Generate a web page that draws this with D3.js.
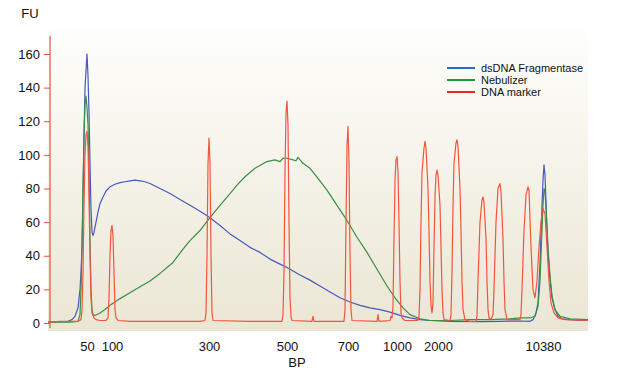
<!DOCTYPE html>
<html>
<head>
<meta charset="utf-8">
<script src="https://cdn.jsdelivr.net/npm/d3@7"></script>
<style>
  html, body { margin: 0; padding: 0; background: #ffffff; }
  svg { display: block; }
  text { font-family: "Liberation Sans", Arial, sans-serif; fill: #111; }
</style>
</head>
<body>
<svg id="chart" width="619" height="385"></svg>
<script>
// ---- Data (migration position, FU) ----
const yTicks = [0, 20, 40, 60, 80, 100, 120, 140, 160];
const ladderPositions = [39, 64, 161, 239, 300, 349, 390, 495];
const ladderLabels = ["50", "100", "300", "500", "700", "1000", "2000", "10380"];

const fragmentase = [
  [0,0.5],[12,0.8],[20,1],[24,2],[27,4],[30,9],[32,20],[33,30],[34,45],[35,75],[36,110],[37,140],[38,150],[39,160],
  [40,147],[41,125],[42,95],[43,68],[44,54],[45,52],[46,54],[48,60],[50,66],[52,71],[55,75],[58,78.5],[62,81],
  [67,82.5],[72,83.5],[77,84],[82,84.5],[87,85],[92,84.5],[97,84],[102,83],[112,80],[122,77],[132,73.5],[142,70],
  [152,66.5],[161,63],[172,58],[182,53],[192,49],[202,45],[212,42],[222,38],[232,35],[239,33],[252,28.5],[262,25.5],
  [272,22],[282,18.5],[292,15],[302,12.5],[312,10.5],[322,9],[332,8],[342,6.5],[352,4.5],[362,3],[372,2],[382,1.5],
  [402,1],[432,0.8],[452,1],[472,1.2],[482,1],[485,2],[488,6],[490,12],[492,35],[494,70],[495,85],[496,94],[497,88],
  [498,72],[499,55],[500,42],[502,26],[504,15],[507,8],[510,4],[514,2.5],[522,2],[532,1.5],[540,1.5]
];

const nebulizer = [
  [0,0.5],[22,0.5],[30,1],[32,5],[33,20],[34,45],[35,80],[36,112],[37,130],[38,135],[39,128],[40,118],[41,90],
  [42,50],[43,20],[44,8],[45,5],[47,4.5],[52,6],[57,8],[62,10.5],[67,12.5],[72,14.5],[82,18],[92,21.5],[102,25],
  [112,29.5],[125,36],[135,44],[142,49],[152,55],[161,62],[172,70],[182,77],[189,82],[197,87],[207,92],[219,96],
  [227,97],[232,96],[235,98],[239,98],[245,97],[248,96.5],[250,98.5],[255,95],[262,92],[270,86],[279,79],[289,70],
  [299,61],[309,51],[319,42],[329,32],[339,22],[347,15],[355,9],[362,5],[372,2.5],[382,1.5],[402,1.5],[422,2],
  [442,2],[462,2.5],[472,3],[482,3],[487,4],[490,10],[492,25],[494,55],[495,70],[496,80],[497,78],[498,68],[500,45],
  [502,28],[504,16],[507,8],[512,4],[522,2.5],[540,2]
];

const marker = [
  [0,0.5],[12,1],[22,1],[30,1],[33,2],[34,8],[35,30],[36,70],[37,100],[38,112],[39,114],[40,105],[41,75],[42,40],
  [43,15],[44,6],[46,3],[48,2],[52,1.5],[58,1.5],[60,3],[61,15],[62,40],[63,55],[64,58],[65,52],[66,30],[67,8],
  [68,3],[70,1.5],[82,1],[112,1],[152,1],[157,1.5],[158,6],[159,40],[160,95],[161,110],[162,95],[163,40],[164,6],
  [165,1.5],[202,1],[234,1],[235,5],[236,30],[237,90],[238,125],[239,132],[240,118],[241,60],[242,15],[243,4],
  [244,1.5],[264,1],[265,4],[266,1],[296,1],[297,8],[298,60],[299,105],[300,117],[301,95],[302,40],[303,8],
  [304,1.5],[329,1],[330,5],[331,1],[342,1.5],[343,4],[344,3],[345,10],[346,50],[347,85],[348,97],[349,99],
  [350,90],[351,60],[352,25],[353,6],[354,3],[357,1.5],[370,1.5],[371,4],[372,20],[373,60],[374,90],[376,104],
  [377,108],[378,104],[380,80],[381,55],[382,25],[383,10],[384,6],[385,12],[386,45],[387,75],[388,88],[389,91],
  [390,88],[392,70],[393,45],[394,20],[395,6],[396,2],[402,1.5],[403,5],[404,30],[405,70],[406,95],[408,107],
  [409,109],[410,105],[412,80],[413,55],[414,25],[415,8],[417,2],[422,1],[428,1],[429,4],[430,25],[432,60],
  [434,73],[435,75],[436,72],[438,50],[439,25],[440,8],[441,3],[443,2],[445,5],[446,20],[448,60],[450,80],[452,83],
  [453,78],[455,50],[456,25],[457,8],[459,2],[472,2],[473,5],[474,20],[476,55],[478,76],[480,81],[481,79],[483,45],
  [485,20],[487,15],[489,25],[491,45],[493,60],[495,68],[497,65],[499,45],[501,25],[503,12],[506,6],[510,3],
  [517,2],[540,1.5]
];

const seriesNames = ["dsDNA Fragmentase", "Nebulizer", "DNA marker"];

// ---- Layout ----
const svg = d3.select("#chart");
const plotLeft = 48, plotRight = 588, plotTop = 28, plotBottom = 331;

const x = d3.scaleLinear().domain([0, 540]).range([plotLeft, plotRight]);
const y = d3.scaleLinear().domain([0, 160]).range([323, 54]);

const defs = svg.append("defs");
const grad = defs.append("linearGradient").attr("id", "bg").attr("x1", 0).attr("x2", 0).attr("y1", 0).attr("y2", 1);
grad.append("stop").attr("offset", "0%").attr("stop-color", "#fefefc");
grad.append("stop").attr("offset", "100%").attr("stop-color", "#ebe6d4");

svg.append("rect")
  .attr("x", plotLeft).attr("y", plotTop)
  .attr("width", plotRight - plotLeft).attr("height", plotBottom - plotTop)
  .attr("fill", "url(#bg)");

// Traces
const line = d3.line().x(d => x(d[0])).y(d => y(d[1]));
const traceColors = ["#4858c0", "#3a8e45", "#f2553f"];
[fragmentase, nebulizer, marker].forEach((s, i) => {
  svg.append("path").datum(s)
    .attr("d", line)
    .attr("fill", "none")
    .attr("stroke", traceColors[i])
    .attr("stroke-width", 1.2)
    .attr("stroke-linejoin", "round");
});

// Y axis
const axisColor = "#f0503c";
const yAxis = svg.append("g").attr("transform", `translate(50,0)`)
  .call(d3.axisLeft(y).tickValues(yTicks).tickSize(6).tickPadding(4));
yAxis.select(".domain").remove();
yAxis.selectAll(".tick line").attr("stroke", axisColor).attr("stroke-width", 1);
yAxis.selectAll(".tick text")
  .attr("font-size", 13).attr("fill", "#111")
  .attr("font-family", '"Liberation Sans", Arial, sans-serif');
svg.append("line")
  .attr("x1", 50).attr("x2", 50).attr("y1", 36).attr("y2", 328)
  .attr("stroke", axisColor).attr("stroke-width", 1.2);

// X axis labels (ladder sizes)
const xAxis = svg.append("g").attr("transform", `translate(0,331)`)
  .call(d3.axisBottom(x).tickValues(ladderPositions)
    .tickFormat((d, i) => ladderLabels[i]).tickSize(0).tickPadding(11));
xAxis.select(".domain").remove();
xAxis.selectAll(".tick text")
  .attr("font-size", 13).attr("fill", "#111")
  .attr("font-family", '"Liberation Sans", Arial, sans-serif');

// Axis titles
svg.append("text").attr("x", 30).attr("y", 18).attr("text-anchor", "middle")
  .attr("font-size", 13).text("FU");
svg.append("text").attr("x", 297).attr("y", 367).attr("text-anchor", "middle")
  .attr("font-size", 13).text("BP");

// Legend
const legendColors = ["#2b6ccf", "#1f9a3c", "#e8262a"];
const legend = svg.append("g");
seriesNames.forEach((name, i) => {
  const ly = 68 + i * 12;
  legend.append("line")
    .attr("x1", 447).attr("x2", 475).attr("y1", ly).attr("y2", ly)
    .attr("stroke", legendColors[i]).attr("stroke-width", 2);
  legend.append("text")
    .attr("x", 481).attr("y", ly + 4)
    .attr("font-size", 11)
    .attr("font-family", '"Liberation Sans Narrow", "Liberation Sans", Arial, sans-serif')
    .style("font-stretch", "condensed")
    .text(name);
});
</script>
</body>
</html>
